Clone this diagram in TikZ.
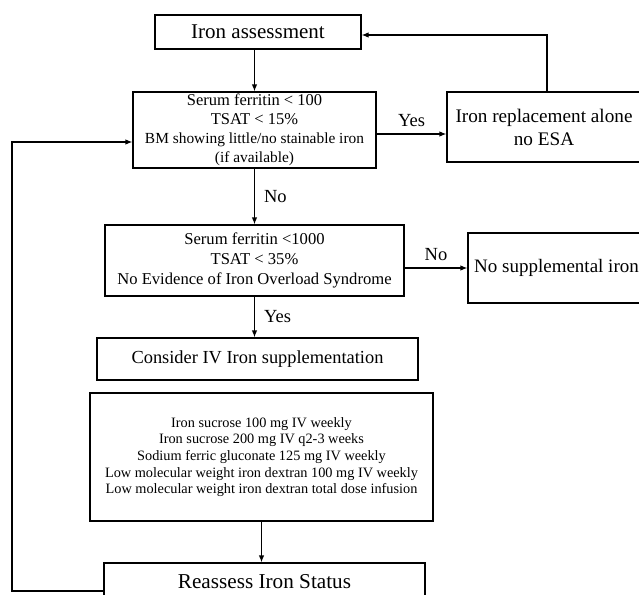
\documentclass[tikz,border=0pt]{standalone}
\usepackage{fontspec}
\setmainfont{Liberation Serif}
\usetikzlibrary{arrows.meta}
\begin{document}
\begin{tikzpicture}[x=1pt,y=-1pt,line width=1.2pt,>={Latex[length=7pt,width=5.5pt]},
  box/.style={draw,align=center,inner sep=0pt},
  lbl/.style={inner sep=2pt,font={\fontsize{18.5}{21}\selectfont}}]
\useasboundingbox (0,0) rectangle (639,594);
\clip (0,0) rectangle (639,594);
% boxes
\node[box,minimum width=206,minimum height=34,font={\fontsize{21}{24}\selectfont}] (assess) at (258,32) {Iron assessment};
\node[box,minimum width=243,minimum height=76,font={\fontsize{16.5}{19}\selectfont}] (check) at (254.5,130)
  {Serum ferritin < 100\\TSAT < 15\%\\
   \fontsize{15.4}{19}\selectfont BM showing little/no stainable iron\\\fontsize{15.4}{19}\selectfont (if available)};
\node[box,minimum width=194,minimum height=70,font={\fontsize{19.2}{23}\selectfont}] (replace) at (544,127) {Iron replacement alone\\no ESA};
\node[box,minimum width=299,minimum height=71,font={\fontsize{16.6}{20}\selectfont}] (ferritin) at (254.5,260.5)
  {Serum ferritin <1000\\TSAT < 35\%\\No Evidence of Iron Overload Syndrome};
\node[box,minimum width=177,minimum height=70,font={\fontsize{19}{22}\selectfont}] (nosupp) at (556.5,268) {No supplemental iron};
\node[box,minimum width=321,minimum height=42,font={\fontsize{18.4}{21}\selectfont}] (consider) at (257.5,359) {Consider IV Iron supplementation};
\node[box,minimum width=343,minimum height=128,font={\fontsize{14.3}{16.7}\selectfont}] (drugs) at (261.5,457)
  {Iron sucrose 100 mg IV weekly\\Iron sucrose 200 mg IV q2-3 weeks\\Sodium ferric gluconate 125 mg IV weekly\\
   Low molecular weight iron dextran 100 mg IV weekly\\Low molecular weight iron dextran total dose infusion};
\node[box,minimum width=321,minimum height=38,font={\fontsize{21.2}{24}\selectfont}] (reassess) at (264.5,582) {Reassess Iron Status};
\coordinate (loop) at (12,591);
% connectors
\draw[->] (assess.south -| check.north) -- (check.north);
\draw[->] ([yshift=-4pt]check.east) -- ([yshift=-4pt]check.east -| replace.west) node[lbl,midway,above=5pt]{Yes};
\draw[->] ([xshift=3pt]replace.north) |- ([yshift=-3pt]assess.east);
\draw[->] (check.south) -- (ferritin.north) node[lbl,midway,right=7pt]{No};
\draw[->] (ferritin.east |- nosupp.west) -- (nosupp.west) node[lbl,midway,above=5pt]{No};
\draw[->] (ferritin.south) -- (ferritin.south |- consider.north) node[lbl,midway,right=7pt]{Yes};
\draw[->] (drugs.south) -- (drugs.south |- reassess.north);
\draw[->] (reassess.west |- loop) -- (loop) |- ([yshift=-12pt]check.west);
\end{tikzpicture}
\end{document}
